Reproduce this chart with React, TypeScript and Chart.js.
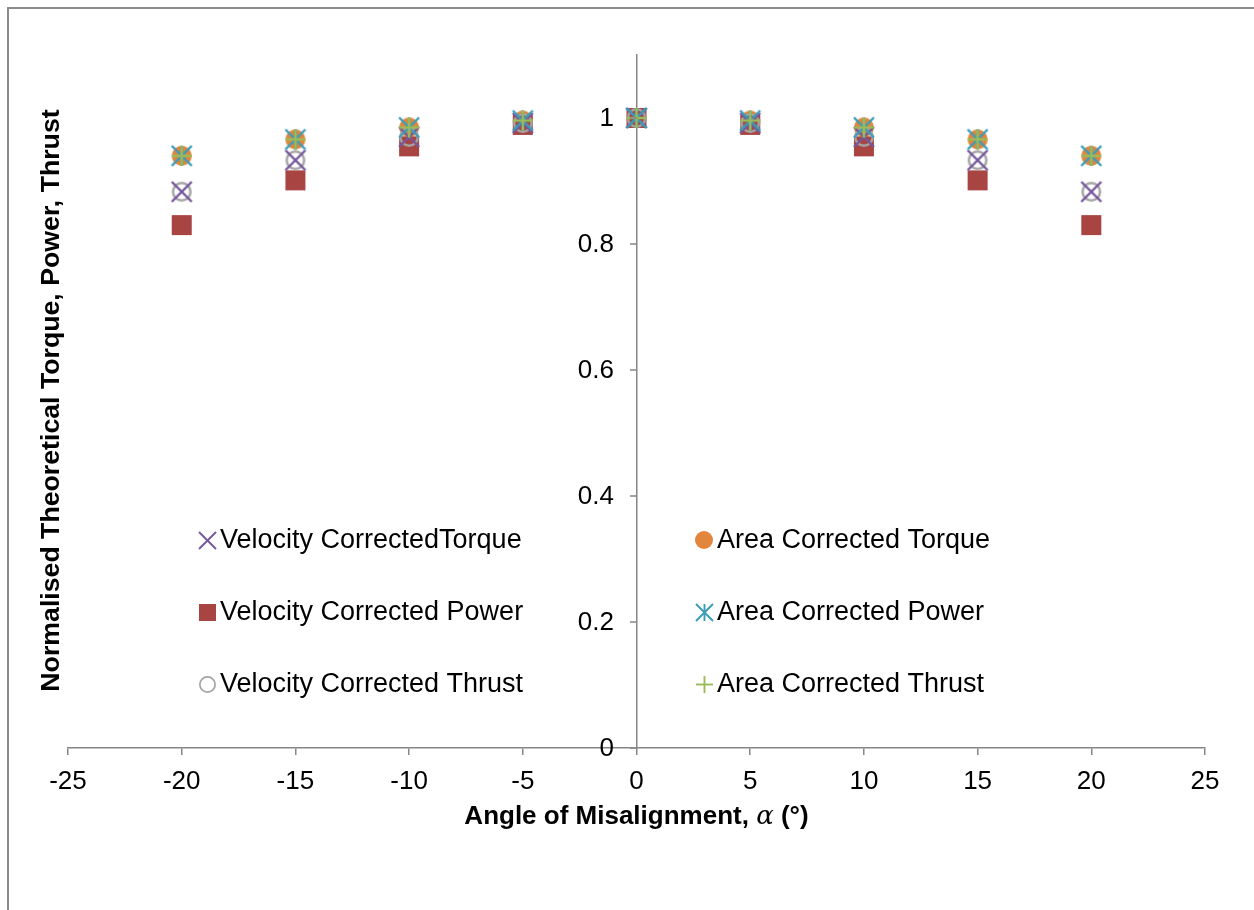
import React, { useEffect, useRef } from 'react';
import { Chart, registerables } from 'chart.js';

Chart.register(...registerables);

// Misalignment angle (degrees) and normalised theoretical quantities
const angles = [-20, -15, -10, -5, 0, 5, 10, 15, 20];
const velocityTorque = [0.883, 0.933, 0.970, 0.992, 1.0, 0.992, 0.970, 0.933, 0.883];
const velocityPower = [0.830, 0.901, 0.955, 0.989, 1.0, 0.989, 0.955, 0.901, 0.830];
const velocityThrust = [0.883, 0.933, 0.970, 0.992, 1.0, 0.992, 0.970, 0.933, 0.883];
const areaTorque = [0.940, 0.966, 0.985, 0.996, 1.0, 0.996, 0.985, 0.966, 0.940];
const areaPower = [0.940, 0.966, 0.985, 0.996, 1.0, 0.996, 0.985, 0.966, 0.940];
const areaThrust = [0.940, 0.966, 0.985, 0.996, 1.0, 0.996, 0.985, 0.966, 0.940];

const yTickValues = [0, 0.2, 0.4, 0.6, 0.8, 1];
const yTickLabels = ['0', '0.2', '0.4', '0.6', '0.8', '1'];

const seriesNames = [
  'Velocity CorrectedTorque',
  'Velocity Corrected Power',
  'Velocity Corrected Thrust',
  'Area Corrected Torque',
  'Area Corrected Power',
  'Area Corrected Thrust',
];

const X_TITLE_MAIN = 'Angle of Misalignment, ';
const X_TITLE_SYMBOL = '\u03B1';
const X_TITLE_UNIT = ' (\u00B0)';
const Y_TITLE = 'Normalised Theoretical Torque, Power, Thrust';

const FONT = '"Liberation Sans", Arial, Helvetica, sans-serif';
const AXIS_GRAY = '#868686';

type MarkerKind = 'x' | 'square' | 'ring' | 'dot' | 'asterisk' | 'plus';

function makeMarker(kind: MarkerKind, size: number, color: string, lw: number): HTMLCanvasElement {
  const dim = Math.ceil(size + 4);
  const c = document.createElement('canvas');
  c.width = dim;
  c.height = dim;
  const ctx = c.getContext('2d')!;
  const m = dim / 2;
  const r = size / 2;
  ctx.strokeStyle = color;
  ctx.fillStyle = color;
  ctx.lineWidth = lw;
  const line = (x1: number, y1: number, x2: number, y2: number) => {
    ctx.beginPath();
    ctx.moveTo(x1, y1);
    ctx.lineTo(x2, y2);
    ctx.stroke();
  };
  switch (kind) {
    case 'x':
      line(m - r, m - r, m + r, m + r);
      line(m - r, m + r, m + r, m - r);
      break;
    case 'square':
      ctx.fillRect(m - r, m - r, size, size);
      break;
    case 'ring':
      ctx.beginPath();
      ctx.arc(m, m, r - lw / 2, 0, Math.PI * 2);
      ctx.stroke();
      break;
    case 'dot':
      ctx.beginPath();
      ctx.arc(m, m, r, 0, Math.PI * 2);
      ctx.fill();
      break;
    case 'asterisk':
      line(m, m - r, m, m + r);
      line(m - r, m - r, m + r, m + r);
      line(m - r, m + r, m + r, m - r);
      break;
    case 'plus':
      line(m, m - r, m, m + r);
      line(m - r, m, m + r, m);
      break;
  }
  return c;
}

const seriesStyles: { kind: MarkerKind; color: string; lw: number; legendLw: number; legendSize: number; order: number }[] = [
  { kind: 'x', color: '#76589c', lw: 2.4, legendLw: 1.9, legendSize: 17, order: 2 },
  { kind: 'square', color: '#a84543', lw: 0, legendLw: 0, legendSize: 17, order: 4 },
  { kind: 'ring', color: '#a5a5a5', lw: 2.5, legendLw: 1.7, legendSize: 17, order: 3 },
  { kind: 'dot', color: '#e2853d', lw: 0, legendLw: 0, legendSize: 18, order: 5 },
  { kind: 'asterisk', color: '#3a9db8', lw: 2.4, legendLw: 1.9, legendSize: 17, order: 1 },
  { kind: 'plus', color: '#9bbb59', lw: 2.4, legendLw: 1.9, legendSize: 17, order: 0 },
];

const seriesValues = [velocityTorque, velocityPower, velocityThrust, areaTorque, areaPower, areaThrust];

export default function App() {
  const canvasRef = useRef<HTMLCanvasElement | null>(null);

  useEffect(() => {
    const canvas = canvasRef.current;
    if (!canvas) return;

    const dataMarkers = seriesStyles.map((s) => makeMarker(s.kind, 20, s.color, s.lw));
    const legendMarkers = seriesStyles.map((s) => makeMarker(s.kind, s.legendSize, s.color, s.legendLw));

    const overlay = {
      id: 'overlay',
      beforeDraw(chart: any) {
        const ctx = chart.ctx as CanvasRenderingContext2D;
        ctx.save();
        ctx.fillStyle = '#ffffff';
        ctx.fillRect(0, 0, chart.width, chart.height);
        // outer frame
        ctx.strokeStyle = '#8c8c8c';
        ctx.lineWidth = 2;
        ctx.beginPath();
        ctx.moveTo(8, chart.height);
        ctx.lineTo(8, 8);
        ctx.lineTo(chart.width, 8);
        ctx.stroke();
        ctx.restore();
      },
      afterDatasetsDraw(chart: any) {
        const ctx = chart.ctx as CanvasRenderingContext2D;
        const xs = chart.scales.x;
        const ys = chart.scales.y;
        const ax = Math.round(xs.getPixelForValue(0));
        ctx.save();
        // y-axis tick marks and labels beside the central axis
        ctx.strokeStyle = AXIS_GRAY;
        ctx.lineWidth = 1.5;
        ctx.font = `26px ${FONT}`;
        ctx.fillStyle = '#000';
        ctx.textAlign = 'right';
        ctx.textBaseline = 'middle';
        yTickValues.forEach((v, i) => {
          const py = ys.getPixelForValue(v);
          ctx.beginPath();
          ctx.moveTo(ax - 7, py);
          ctx.lineTo(ax, py);
          ctx.stroke();
          ctx.fillText(yTickLabels[i], ax - 23, py + 1);
        });
        ctx.restore();
      },
      afterDraw(chart: any) {
        const ctx = chart.ctx as CanvasRenderingContext2D;
        const area = chart.chartArea;
        ctx.save();
        // legend, two columns of three rows
        seriesNames.forEach((name, i) => {
          const col = i < 3 ? 0 : 1;
          const row = i % 3;
          const mx = col === 0 ? 207 : 704;
          const my = 540 + row * 72;
          const img = legendMarkers[i];
          ctx.drawImage(img, Math.round(mx - img.width / 2), Math.round(my - img.height / 2));
          ctx.font = `27px ${FONT}`;
          ctx.fillStyle = '#000';
          ctx.textBaseline = 'middle';
          ctx.textAlign = 'left';
          ctx.fillText(name, mx + 13, my + 1);
        });

        // x-axis title with italic symbol
        const xs = chart.scales.x;
        const cx = xs.getPixelForValue(0);
        const boldFont = `bold 26px ${FONT}`;
        const symFont = `italic 26px "DejaVu Serif", serif`;
        ctx.font = boldFont;
        const w1 = ctx.measureText(X_TITLE_MAIN).width;
        const w3 = ctx.measureText(X_TITLE_UNIT).width;
        ctx.font = symFont;
        const w2 = ctx.measureText(X_TITLE_SYMBOL).width;
        const total = w1 + w2 + w3;
        let tx = cx - total / 2;
        const ty = 824;
        ctx.textBaseline = 'alphabetic';
        ctx.textAlign = 'left';
        ctx.fillStyle = '#000';
        ctx.font = boldFont;
        ctx.fillText(X_TITLE_MAIN, tx, ty);
        tx += w1;
        ctx.font = symFont;
        ctx.fillText(X_TITLE_SYMBOL, tx, ty);
        tx += w2;
        ctx.font = boldFont;
        ctx.fillText(X_TITLE_UNIT, tx, ty);

        // y-axis title
        ctx.translate(59, (area.top + area.bottom) / 2 - 1);
        ctx.rotate(-Math.PI / 2);
        ctx.font = `bold 26.7px ${FONT}`;
        ctx.textAlign = 'center';
        ctx.textBaseline = 'alphabetic';
        ctx.fillText(Y_TITLE, 0, 0);
        ctx.restore();
      },
    };

    const chart = new Chart(canvas, {
      type: 'scatter',
      data: {
        datasets: seriesNames.map((name, i) => ({
          label: name,
          data: angles.map((a, j) => ({ x: a, y: seriesValues[i][j] })),
          pointStyle: dataMarkers[i],
          pointRadius: 10,
          showLine: false,
          order: seriesStyles[i].order,
          backgroundColor: seriesStyles[i].color,
          borderColor: seriesStyles[i].color,
        })),
      },
      options: {
        responsive: false,
        animation: false,
        events: [],
        layout: { padding: { left: 68, right: 49, top: 55, bottom: 62 } },
        plugins: {
          legend: { display: false },
          tooltip: { enabled: false },
          title: { display: false },
        },
        scales: {
          x: {
            type: 'linear',
            min: -25,
            max: 25,
            afterFit: (scale: any) => {
              scale.height = 100;
            },
            ticks: {
              stepSize: 5,
              color: '#000',
              font: { family: FONT, size: 26 },
              padding: 11,
              maxRotation: 0,
              callback: (v: any) => String(v),
            },
            grid: {
              display: true,
              drawOnChartArea: false,
              drawTicks: true,
              tickLength: 7,
              color: AXIS_GRAY,
              lineWidth: 1.5,
            },
            border: { display: true, color: AXIS_GRAY, width: 1.5 },
          },
          y: {
            type: 'linear',
            min: 0,
            max: 1.1,
            position: { x: 0 } as any,
            ticks: { display: false },
            grid: { display: false, drawTicks: false },
            border: { display: true, color: AXIS_GRAY, width: 1.5 },
          },
        },
      },
      plugins: [overlay],
    });

    return () => {
      chart.destroy();
    };
  }, []);

  return (
    <div style={{ position: 'absolute', left: 0, top: 0, width: 1254, height: 910, overflow: 'hidden', background: '#fff' }}>
      <canvas ref={canvasRef} width={1254} height={910} style={{ display: 'block', width: 1254, height: 910 }} />
    </div>
  );
}
